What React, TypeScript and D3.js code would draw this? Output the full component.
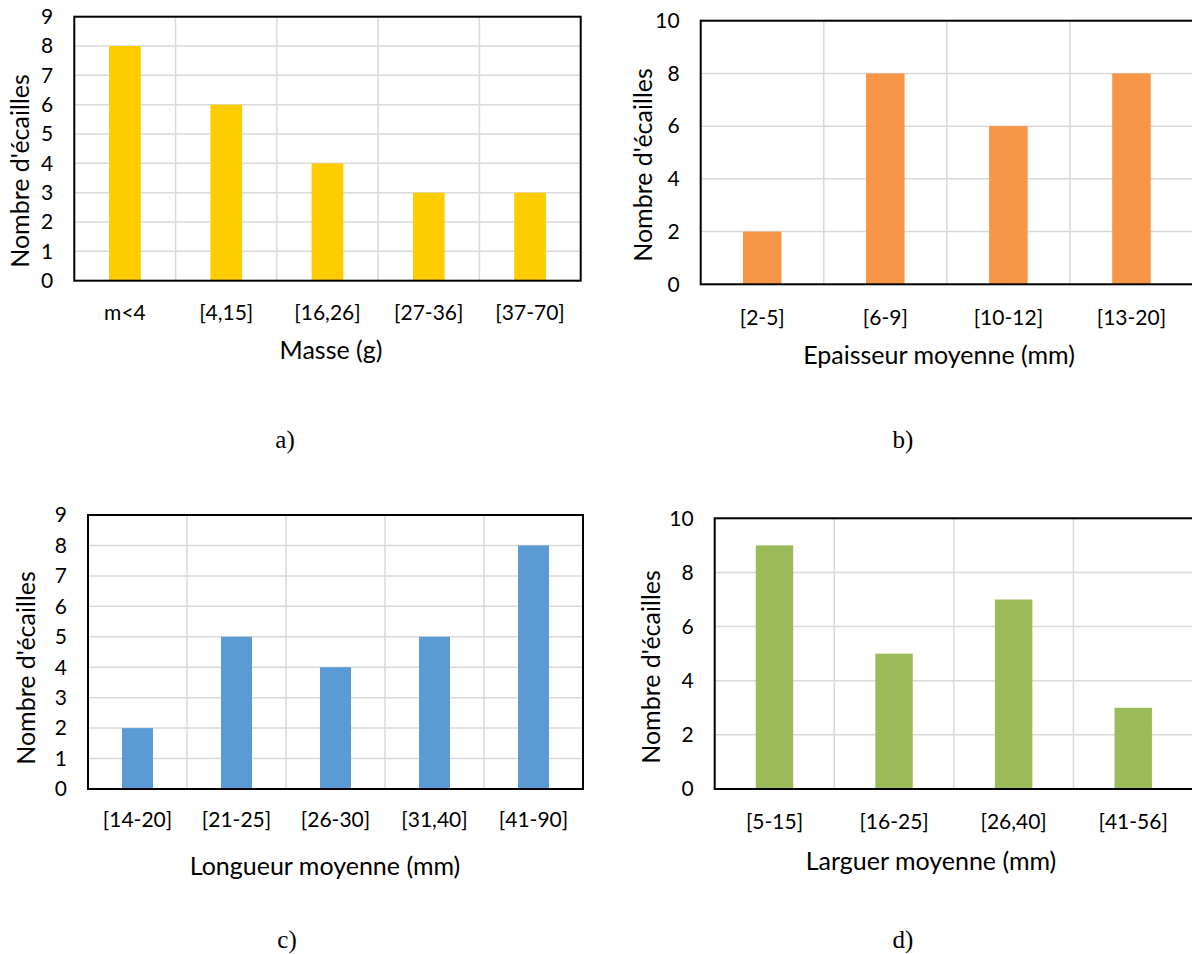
import React from "react";
import * as d3 from "d3";

// ---- data ----
const catsA = ["m<4", "[4,15]", "[16,26]", "[27-36]", "[37-70]"];
const valsA = [8, 6, 4, 3, 3];
const ticksA = [0, 1, 2, 3, 4, 5, 6, 7, 8, 9];

const catsB = ["[2-5]", "[6-9]", "[10-12]", "[13-20]"];
const valsB = [2, 8, 6, 8];
const ticksB = [0, 2, 4, 6, 8, 10];

const catsC = ["[14-20]", "[21-25]", "[26-30]", "[31,40]", "[41-90]"];
const valsC = [2, 5, 4, 5, 8];
const ticksC = [0, 1, 2, 3, 4, 5, 6, 7, 8, 9];

const catsD = ["[5-15]", "[16-25]", "[26,40]", "[41-56]"];
const valsD = [9, 5, 7, 3];
const ticksD = [0, 2, 4, 6, 8, 10];

const yTitle = "Nombre d'écailles";
const FONT = "Lato, 'Open Sans', sans-serif";
const FS = 21;
const FS_TITLE = 25;

type Box = { l: number; r: number; t: number; b: number };

function Panel(props: {
  cats: string[];
  vals: number[];
  ticks: number[];
  color: string;
  xTitle: string;
  box: Box;
  tickGap: number;
  titleGap: number;
  titleX: number;
  yTitleX: number;
  yTitleY: number;
  label: string;
  labelX: number;
  labelY: number;
}) {
  const { cats, vals, ticks, color, xTitle, box, tickGap, titleGap, titleX, yTitleX, yTitleY, label, labelX, labelY } = props;
  const x = d3.scaleBand<string>().domain(cats).range([box.l, box.r]).padding(0);
  const y = d3.scaleLinear().domain([0, ticks[ticks.length - 1]]).range([box.b, box.t]);
  const bw = x.bandwidth() * 0.313;
  return (
    <g>
      {/* horizontal grid */}
      {ticks.slice(1).map((t) => (
        <line key={"h" + t} x1={box.l} x2={box.r} y1={y(t)} y2={y(t)} stroke="#d9d9d9" strokeWidth={1.5} />
      ))}
      {/* vertical grid at category boundaries */}
      {cats.slice(1).map((c) => (
        <line key={"v" + c} x1={x(c)!} x2={x(c)!} y1={box.t} y2={box.b} stroke="#d9d9d9" strokeWidth={1.5} />
      ))}
      {/* bars */}
      {cats.map((c, i) => (
        <rect
          key={"b" + c}
          x={x(c)! + (x.bandwidth() - bw) / 2}
          y={y(vals[i])}
          width={bw}
          height={y(0) - y(vals[i])}
          fill={color}
        />
      ))}
      {/* frame */}
      <rect x={box.l} y={box.t} width={box.r - box.l} height={box.b - box.t} fill="none" stroke="#000" strokeWidth={2} />
      {/* y ticks */}
      {ticks.map((t) => (
        <text key={"yt" + t} x={box.l - 21} y={y(t)} dy="0.35em" textAnchor="end" fontFamily={FONT} fontSize={FS} fill="#000">
          {t}
        </text>
      ))}
      {/* x ticks */}
      {cats.map((c) => (
        <text key={"xt" + c} x={x(c)! + x.bandwidth() / 2} y={box.b + tickGap} dy="0.35em" textAnchor="middle" fontFamily={FONT} fontSize={FS} fill="#000">
          {c}
        </text>
      ))}
      <text x={titleX} y={box.b + titleGap} dy="0.35em" textAnchor="middle" fontFamily={FONT} fontSize={FS_TITLE} fill="#000">
        {xTitle}
      </text>
      <text transform={`translate(${yTitleX},${yTitleY}) rotate(-90)`} dy="0.35em" textAnchor="middle" fontFamily={FONT} fontSize={FS_TITLE} fill="#000">
        {yTitle}
      </text>
      <text x={labelX} y={labelY} textAnchor="middle" fontFamily="'Liberation Serif', 'Times New Roman', serif" fontSize={25} fill="#000">
        {label}
      </text>
    </g>
  );
}

export default function App() {
  return (
    <svg width={1192} height={954} style={{ position: "absolute", left: 0, top: 0, background: "#fff" }}>
      <rect x={0} y={0} width={1192} height={954} fill="#fff" />
      <Panel cats={catsA} vals={valsA} ticks={ticksA} color="#FFCC00" xTitle="Masse (g)"
        box={{ l: 74.3, r: 580.7, t: 16.7, b: 280.7 }} tickGap={32} titleGap={70} titleX={331}
        yTitleX={20} yTitleY={171}
        label="a)" labelX={285} labelY={448} />
      <Panel cats={catsB} vals={valsB} ticks={ticksB} color="#F79646" xTitle="Epaisseur moyenne (mm)"
        box={{ l: 700.7, r: 1193, t: 20.7, b: 284.3 }} tickGap={33} titleGap={71} titleX={939}
        yTitleX={643} yTitleY={165}
        label="b)" labelX={903} labelY={448} />
      <Panel cats={catsC} vals={valsC} ticks={ticksC} color="#5B9BD5" xTitle="Longueur moyenne (mm)"
        box={{ l: 88, r: 583, t: 515, b: 789 }} tickGap={31} titleGap={77} titleX={325}
        yTitleX={26} yTitleY={668}
        label="c)" labelX={287} labelY={948} />
      <Panel cats={catsD} vals={valsD} ticks={ticksD} color="#9BBB59" xTitle="Larguer moyenne (mm)"
        box={{ l: 714.7, r: 1193, t: 518.3, b: 789 }} tickGap={33} titleGap={72} titleX={931}
        yTitleX={651} yTitleY={667}
        label="d)" labelX={903} labelY={948} />
    </svg>
  );
}
